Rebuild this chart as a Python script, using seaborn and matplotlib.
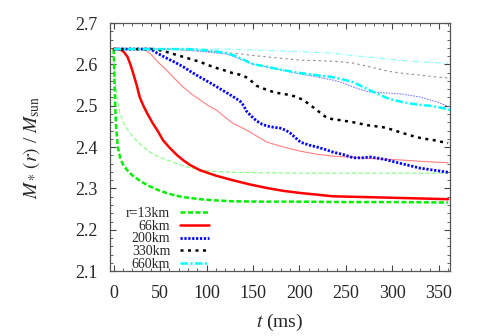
import matplotlib
matplotlib.use('Agg')
import matplotlib.pyplot as plt
from matplotlib.ticker import MultipleLocator
import seaborn as sns

# values (t in ms, enclosed mass in Msun)
# thick curves (in legend)
t_13 = [0, 0.5, 1, 2, 3, 4.5, 7, 10, 15, 21, 30, 39, 48, 57, 66, 75, 93, 110, 128, 160, 200, 250, 300, 360]
m_13 = [2.637, 2.60, 2.55, 2.48, 2.44, 2.40, 2.375, 2.358, 2.343, 2.330, 2.316, 2.305, 2.296, 2.289, 2.283,
        2.279, 2.274, 2.271, 2.269, 2.268, 2.268, 2.267, 2.267, 2.266]

t_66 = [0, 5, 8, 11, 15, 18, 21, 25, 28, 32, 36, 42, 48, 53, 60, 68, 75, 82, 93, 110, 128, 146, 165, 183,
        201, 236, 273, 308, 360]
m_66 = [2.637, 2.637, 2.635, 2.630, 2.618, 2.600, 2.579, 2.548, 2.521, 2.500, 2.482, 2.458, 2.437, 2.417,
        2.399, 2.381, 2.368, 2.357, 2.344, 2.331, 2.320, 2.310, 2.301, 2.294, 2.289, 2.281, 2.279, 2.277, 2.274]

t_200 = [0, 40, 47, 57, 66, 75, 84, 93, 104, 113, 122, 130, 136, 140, 143, 148, 154, 160, 165, 172, 179, 185,
         190, 196, 201, 210, 219, 228, 236, 247, 258, 267, 276, 285, 294, 301, 308, 319, 330, 345, 360]
m_200 = [2.637, 2.637, 2.627, 2.615, 2.605, 2.594, 2.581, 2.569, 2.555, 2.543, 2.531, 2.520, 2.511, 2.500,
         2.487, 2.475, 2.463, 2.455, 2.451, 2.448, 2.446, 2.441, 2.434, 2.422, 2.412, 2.405, 2.400, 2.394,
         2.388, 2.382, 2.374, 2.374, 2.376, 2.373, 2.369, 2.365, 2.361, 2.355, 2.349, 2.344, 2.339]

t_330 = [0, 45, 57, 66, 75, 84, 93, 102, 111, 120, 128, 136, 140, 145, 150, 154, 163, 172, 181, 190, 197, 204,
         212, 219, 225, 230, 237, 244, 258, 273, 290, 300, 308, 317, 326, 335, 344, 352, 360]
m_330 = [2.637, 2.637, 2.630, 2.624, 2.618, 2.612, 2.606, 2.598, 2.591, 2.585, 2.579, 2.575, 2.572, 2.566,
         2.556, 2.548, 2.540, 2.533, 2.529, 2.526, 2.521, 2.514, 2.501, 2.489, 2.478, 2.470, 2.467, 2.465,
         2.460, 2.453, 2.448, 2.442, 2.436, 2.430, 2.424, 2.420, 2.417, 2.413, 2.410]

t_660 = [0, 80, 93, 108, 122, 130, 136, 142, 147, 156, 165, 183, 201, 218, 236, 248, 258, 266, 275, 285, 294,
         303, 311, 320, 330, 340, 348, 355, 362]
m_660 = [2.637, 2.637, 2.635, 2.632, 2.627, 2.621, 2.615, 2.609, 2.603, 2.598, 2.594, 2.586, 2.579, 2.574,
         2.569, 2.563, 2.557, 2.548, 2.538, 2.528, 2.519, 2.513, 2.509, 2.505, 2.502, 2.500, 2.497, 2.494, 2.490]

# thin, light curves (second model, not in legend)
t_13b = [0, 0.7, 1.5, 3, 5, 7, 10, 14, 21, 30, 39, 48, 57, 68, 79, 93, 110, 128, 160, 200, 250, 300, 360]
m_13b = [2.637, 2.60, 2.565, 2.53, 2.50, 2.482, 2.462, 2.445, 2.424, 2.404, 2.388, 2.377, 2.369, 2.360,
         2.352, 2.345, 2.341, 2.339, 2.338, 2.337, 2.337, 2.337, 2.337]

t_66b = [0, 30, 36, 42, 48, 57, 66, 75, 84, 93, 102, 111, 120, 128, 138, 147, 156, 165, 183, 201, 218, 236,
         254, 280, 308, 335, 360]
m_66b = [2.637, 2.637, 2.632, 2.620, 2.605, 2.586, 2.565, 2.545, 2.528, 2.514, 2.500, 2.489, 2.472, 2.458,
         2.447, 2.436, 2.424, 2.412, 2.400, 2.390, 2.383, 2.378, 2.376, 2.372, 2.369, 2.365, 2.362]

t_200b = [0, 60, 80, 100, 122, 136, 150, 165, 183, 201, 218, 236, 247, 258, 275, 294, 311, 330, 348, 362]
m_200b = [2.637, 2.637, 2.634, 2.630, 2.625, 2.613, 2.600, 2.594, 2.585, 2.577, 2.570, 2.562, 2.555, 2.545,
          2.533, 2.531, 2.528, 2.521, 2.509, 2.497]

t_330b = [0, 60, 100, 128, 165, 201, 222, 240, 258, 276, 294, 312, 330, 345, 360]
m_330b = [2.637, 2.637, 2.632, 2.627, 2.618, 2.610, 2.609, 2.607, 2.603, 2.594, 2.584, 2.578, 2.574, 2.570, 2.567]

t_660b = [0, 120, 160, 201, 236, 255, 273, 290, 308, 330, 345, 360]
m_660b = [2.637, 2.637, 2.634, 2.631, 2.627, 2.622, 2.618, 2.614, 2.610, 2.606, 2.604, 2.603]

labels = ['r=13km', '66km', '200km', '330km', '660km']

sns.set_style('ticks')
plt.rcParams['font.family'] = ['Liberation Serif', 'DejaVu Serif']
plt.rcParams['mathtext.fontset'] = 'stix'

fig = plt.figure(figsize=(4.8, 3.36), dpi=100)
ax = fig.add_axes([0.229, 0.193, 0.7085, 0.7385])

# thin curves first
sns.lineplot(x=t_13b, y=m_13b, ax=ax, color='#80ff80', lw=0.8, linestyle=(0, (4, 2)))
sns.lineplot(x=t_66b, y=m_66b, ax=ax, color='#ff8080', lw=0.8)
sns.lineplot(x=t_200b, y=m_200b, ax=ax, color='#8080ff', lw=0.8, linestyle=(0, (1.5, 1)))
sns.lineplot(x=t_330b, y=m_330b, ax=ax, color='#888888', lw=0.8, linestyle=(0, (2, 3)))
sns.lineplot(x=t_660b, y=m_660b, ax=ax, color='#80ffff', lw=0.8, linestyle=(0, (5, 2, 1, 2)))

n0 = len(ax.lines)
sns.lineplot(x=t_13, y=m_13, ax=ax, color='#00ee00', lw=1.8, linestyle=(0, (2, 1)))
sns.lineplot(x=t_66, y=m_66, ax=ax, color='#ff0000', lw=1.8)
sns.lineplot(x=t_200, y=m_200, ax=ax, color='#0000ff', lw=2.0, linestyle=(0, (0.8, 0.6)))
sns.lineplot(x=t_330, y=m_330, ax=ax, color='#000000', lw=1.8, linestyle=(0, (1.2, 1.8)))
sns.lineplot(x=t_660, y=m_660, ax=ax, color='#00ffff', lw=1.8, linestyle=(0, (3, 1, 0.8, 1)))
handles = ax.lines[n0:n0 + 5]

ax.set_xlim(-4, 362)
ax.set_ylim(2.1, 2.7)
ax.xaxis.set_major_locator(MultipleLocator(50))
ax.xaxis.set_minor_locator(MultipleLocator(10))
ax.yaxis.set_major_locator(MultipleLocator(0.1))
ax.yaxis.set_minor_locator(MultipleLocator(0.02))
ax.tick_params(which='both', direction='in', top=True, right=True, labelsize=13, color='#444444')
ax.tick_params(which='major', length=4.5, width=0.8)
ax.tick_params(which='minor', length=2.2, width=0.6)
ax.tick_params(axis='x', pad=10)
ax.tick_params(axis='y', pad=9)
for s in ax.spines.values():
    s.set_color('#555555')
    s.set_linewidth(0.9)

ax.set_xlabel(r'$t$ (ms)', fontsize=14, labelpad=7)
ax.set_ylabel(r'$M_*\,(r)$ / $M_{\rm sun}$', fontsize=14, labelpad=24)

ax.legend(handles, labels, loc='lower right', bbox_to_anchor=(0.32, -0.038), frameon=False,
          markerfirst=False, fontsize=10, handlelength=2.1, handletextpad=0.7, labelspacing=-0.02,
          borderpad=0.2)

fig.savefig('out.png', dpi=100)
